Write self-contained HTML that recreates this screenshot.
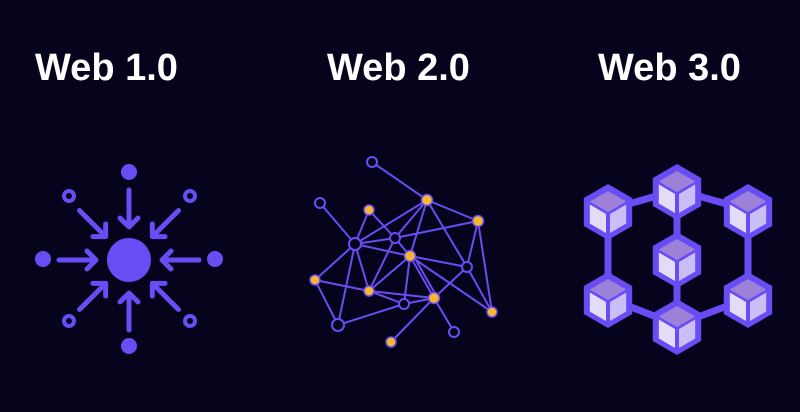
<!DOCTYPE html>
<html><head><meta charset="utf-8"><style>
html,body{margin:0;padding:0;background:#06031c;}
svg{display:block}
text{font-family:"Liberation Sans",sans-serif;font-weight:bold;fill:#fff;font-size:38px}
</style></head><body>
<svg width="800" height="412" viewBox="0 0 800 412" xmlns="http://www.w3.org/2000/svg">
<rect width="800" height="412" fill="#06031c"/>
<text x="35" y="80">Web 1.0</text>
<text x="327" y="80">Web 2.0</text>
<text x="598" y="80">Web 3.0</text>

<!-- Web 1.0 -->
<g fill="#6a4cf5" stroke="#6a4cf5">
<circle cx="129" cy="260" r="22" stroke="none"/>
<circle cx="129" cy="172" r="8" stroke="none"/>
<circle cx="129" cy="346" r="8" stroke="none"/>
<circle cx="43" cy="259" r="8" stroke="none"/>
<circle cx="215" cy="259" r="8" stroke="none"/>
<g fill="none" stroke-width="4">
<circle cx="69" cy="196" r="5"/><circle cx="190" cy="196" r="5"/>
<circle cx="69" cy="321" r="5"/><circle cx="190" cy="321" r="5"/>
</g>
<g fill="none" stroke-width="5" stroke-linecap="round" stroke-linejoin="round" transform="translate(129,260)">
<g id="ar"><path d="M0,-70 L0,-33 M-9,-42 L0,-33 L9,-42"/></g>
<use href="#ar" transform="rotate(45)"/><use href="#ar" transform="rotate(90)"/>
<use href="#ar" transform="rotate(135)"/><use href="#ar" transform="rotate(180)"/>
<use href="#ar" transform="rotate(225)"/><use href="#ar" transform="rotate(270)"/>
<use href="#ar" transform="rotate(315)"/>
</g>
</g>

<!-- Web 2.0 -->
<g stroke="#6a4cf5" stroke-width="2" fill="none">
<path d="M372,162L427,200 M320,203L355,244 M427,200L355,244 M427,200L395,238 M427,200L410,256 M427,200L478,221 M427,200L467,267 M369,210L355,244 M369,210L395,238 M395,238L478,221 M355,244L395,238 M355,244L410,256 M355,244L369,291 M355,244L315,280 M355,244L338,325 M395,238L369,291 M395,238L410,256 M410,256L467,267 M410,256L369,291 M410,256L404,304 M410,256L434,298 M413,255L437,297 M410,256L492,312 M478,221L467,267 M478,221L492,312 M467,267L434,298 M467,267L492,312 M315,280L369,291 M315,280L338,325 M369,291L404,304 M369,291L434,298 M338,325L404,304 M404,304L434,298 M434,298L391,342 M434,298L454,332"/>
</g>
<g stroke="#6a4cf5" stroke-width="2" fill="#06031c">
<circle cx="372" cy="162" r="5"/><circle cx="320" cy="203" r="5"/>
<circle cx="355" cy="244" r="6"/><circle cx="395" cy="238" r="5"/>
<circle cx="467" cy="267" r="5"/><circle cx="338" cy="325" r="6"/>
<circle cx="404" cy="304" r="5"/><circle cx="454" cy="332" r="5"/>
</g>
<g stroke="#6a4cf5" stroke-width="1.5" fill="#f5b82e">
<circle cx="427" cy="200" r="5.5"/><circle cx="478" cy="221" r="5.5"/>
<circle cx="369" cy="210" r="5"/><circle cx="410" cy="256" r="5.5"/>
<circle cx="315" cy="280" r="5"/><circle cx="369" cy="291" r="5"/>
<circle cx="434" cy="298" r="5.5"/><circle cx="492" cy="312" r="5"/>
<circle cx="391" cy="342" r="5"/>
</g>

<!-- Web 3.0 -->
<g stroke="#6a4cf5" stroke-width="7" fill="none">
<path d="M677,190L608,210 M677,190L748,210 M677,190L677,258 M608,210L608,298 M748,210L748,298 M608,298L677,325 M748,298L677,325 M677,258L677,325"/>
</g>
<defs>
<g id="cube">
<polygon points="0,-28 24.2,-14 24.2,14 0,28 -24.2,14 -24.2,-14" fill="#6a4cf5"/>
<polygon points="0,-21 18.2,-10.5 0,0 -18.2,-10.5" fill="#9d80d8"/>
<polygon points="-18.2,-7.5 -2,2 -2,21 -18.2,11.5" fill="#e3dcf7"/>
<polygon points="18.2,-7.5 2,2 2,21 18.2,11.5" fill="#c9bef5"/>
</g>
</defs>
<use href="#cube" x="677" y="192"/>
<use href="#cube" x="608" y="212"/>
<use href="#cube" x="748" y="212"/>
<use href="#cube" x="677" y="260"/>
<use href="#cube" x="608" y="300"/>
<use href="#cube" x="748" y="300"/>
<use href="#cube" x="677" y="327"/>
</svg>
</body></html>
